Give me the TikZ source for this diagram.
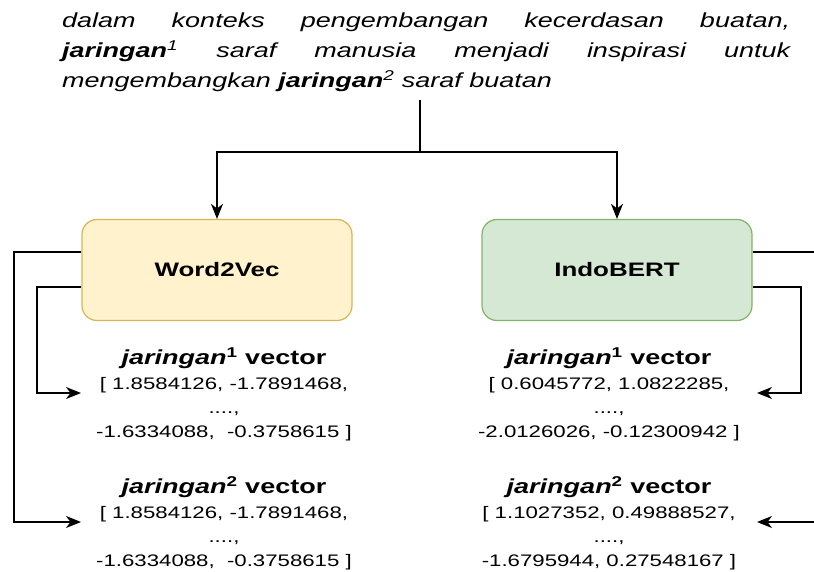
\documentclass[tikz,border=0pt]{standalone}
\usepackage{fontspec}
\setmainfont{Liberation Sans}[FakeStretch=1.33]
\usetikzlibrary{arrows.meta, positioning}

\definecolor{wfill}{HTML}{FFF2CC}
\definecolor{wline}{HTML}{D6B656}
\definecolor{bfill}{HTML}{D5E8D4}
\definecolor{bline}{HTML}{82B366}

\newcommand{\vtitle}[1]{\textbf{\textit{jaringan}\textsuperscript{#1} vector}}

\begin{document}
\begin{tikzpicture}[
        x=1pt, y=-1pt,
        model/.style={rounded corners=15pt, line width=1.2pt, minimum width=270pt, minimum height=101pt,
            font=\fontsize{19.5}{24}\selectfont\bfseries},
        vtitle/.style={inner sep=0pt, font=\fontsize{20.3}{24}\selectfont},
        vvalue/.style={inner sep=0pt, align=center, font=\fontsize{16.7}{24}\selectfont},
        link/.style={line width=1.4pt, -{Stealth[length=15pt, width=12pt, inset=4.5pt]}}
    ]
        \path[use as bounding box, clip] (0,0) rectangle (814,572);

        % Sentence holding both senses of the word
        \node[anchor=north west, inner sep=0pt, text width=728pt, align=justify,
              font=\fontsize{20.3}{30}\selectfont\itshape] (sentence) at (62,13)
            {dalam konteks pengembangan kecerdasan buatan,\linebreak
             \textbf{jaringan}\textsuperscript{1} saraf manusia menjadi inspirasi untuk\linebreak
             mengembangkan \textbf{jaringan}\textsuperscript{2} saraf buatan};

        % The two embedding models
        \node[model, fill=wfill, draw=wline] (w2v) at (217,270) {Word2Vec};
        \node[model, fill=bfill, draw=bline] (bert) at (617,270) {IndoBERT};

        % Split the sentence into both models
        \coordinate (fork) at (420,152);
        \draw[line width=1.4pt] (420,100) -- (fork);
        \draw[link] (fork) -| (w2v.north);
        \draw[link] (fork) -| (bert.north);

        % Word2Vec outputs
        \node[vtitle] (w2vOne) at (224,358) {\vtitle{1}};
        \node[vvalue, below=8pt of w2vOne] (w2vOneVal)
            {[ 1.8584126, -1.7891468,\\ ....,\\ -1.6334088,\ \ -0.3758615 ]};
        \node[vtitle] (w2vTwo) at (224,487) {\vtitle{2}};
        \node[vvalue, below=8pt of w2vTwo] (w2vTwoVal)
            {[ 1.8584126, -1.7891468,\\ ....,\\ -1.6334088,\ \ -0.3758615 ]};

        % IndoBERT outputs
        \node[vtitle] (bertOne) at (609,358) {\vtitle{1}};
        \node[vvalue, below=8pt of bertOne] (bertOneVal)
            {[ 0.6045772, 1.0822285,\\ ....,\\ -2.0126026, -0.12300942 ]};
        \node[vtitle] (bertTwo) at (609,487) {\vtitle{2}};
        \node[vvalue, below=8pt of bertTwo] (bertTwoVal)
            {[ 1.1027352, 0.49888527,\\ ....,\\ -1.6795944, 0.27548167 ]};

        % arrow ends beside the vectors
        \coordinate (w2vOneIn) at (81,393);
        \coordinate (w2vTwoIn) at (81,522);
        \coordinate (bertOneIn) at (757,393);
        \coordinate (bertTwoIn) at (757,522);

        \draw[link] ([yshift=18pt]w2v.west) -- (14,252) |- (w2vTwoIn);
        \draw[link] ([yshift=-17pt]w2v.west) -- (37,287) |- (w2vOneIn);
        \draw[link] ([yshift=-17pt]bert.east) -- (801,287) |- (bertOneIn);
        \draw[link] ([yshift=18pt]bert.east) -- (830,252) |- (bertTwoIn);
    \end{tikzpicture}
\end{document}
